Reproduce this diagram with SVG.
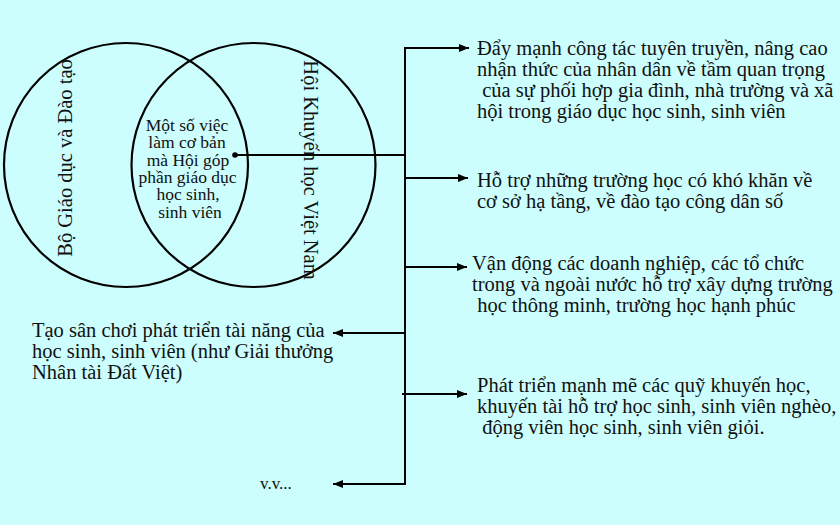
<svg xmlns="http://www.w3.org/2000/svg" width="840" height="525" viewBox="0 0 840 525">
<defs>
<marker id="ah" viewBox="0 0 10 8" refX="10" refY="4" markerWidth="10" markerHeight="8" markerUnits="userSpaceOnUse" orient="auto">
<path d="M0,0 L10,4 L0,8 Z" fill="#000"/>
</marker>
</defs>
<style>
.t{font-family:"Liberation Serif","Times New Roman",serif;font-size:20.5px;fill:#111}
.c{font-family:"Liberation Serif","Times New Roman",serif;font-size:17.5px;fill:#111;text-anchor:middle}
.s{font-family:"Liberation Serif","Times New Roman",serif;font-size:17px;fill:#111}
.ln{stroke:#000;stroke-width:2;fill:none}
.ar{stroke:#000;stroke-width:2;fill:none;marker-end:url(#ah)}
.circ{stroke:#000;stroke-width:2.2;fill:none}
</style>
<rect width="840" height="525" fill="#CCFEFE"/>
<g id="circle-left">
<circle class="circ" cx="126" cy="165" r="122"/>
<text class="t" transform="translate(72,158) rotate(-90)" text-anchor="middle">Bộ Giáo dục và Đào tạo</text>
</g>
<g id="circle-right">
<circle class="circ" cx="253.5" cy="165" r="122"/>
<text class="t" transform="translate(304,170) rotate(90)" text-anchor="middle">Hội Khuyến học Việt Nam</text>
</g>
<g id="center">
<text class="c" x="187" y="130.5">Một số việc</text>
<text class="c" x="187" y="148">làm cơ bản</text>
<text class="c" x="188" y="165.5">mà Hội góp</text>
<text class="c" x="187.5" y="183">phần giáo dục</text>
<text class="c" x="188" y="200">học sinh,</text>
<text class="c" x="190" y="217.5">sinh viên</text>
<circle cx="235" cy="155" r="2.8" fill="#000"/>
</g>
<g id="connectors">
<line class="ln" x1="235" y1="155" x2="405" y2="155"/>
<line class="ln" x1="405" y1="47" x2="405" y2="485"/>
<line class="ar" x1="404" y1="48" x2="469" y2="48"/>
<line class="ar" x1="404" y1="178" x2="468" y2="178"/>
<line class="ar" x1="404" y1="267" x2="467" y2="267"/>
<line class="ar" x1="402" y1="394" x2="467" y2="394"/>
<line class="ar" x1="406" y1="333" x2="333" y2="333"/>
<line class="ar" x1="406" y1="484" x2="333" y2="484"/>
</g>
<g id="item1">
<text class="t" x="477" y="55">Đẩy mạnh công tác tuyên truyền, nâng cao</text>
<text class="t" x="477" y="76">nhận thức của nhân dân về tầm quan trọng</text>
<text class="t" x="477" y="97" xml:space="preserve"> của sự phối hợp gia đình, nhà trường và xã</text>
<text class="t" x="477" y="118">hội trong giáo dục học sinh, sinh viên</text>
</g>
<g id="item2">
<text class="t" x="477" y="187">Hỗ trợ những trường học có khó khăn về</text>
<text class="t" x="477" y="208">cơ sở hạ tầng, về đào tạo công dân số</text>
</g>
<g id="item3">
<text class="t" x="472" y="270">Vận động các doanh nghiệp, các tổ chức</text>
<text class="t" x="472" y="291">trong và ngoài nước hỗ trợ xây dựng trường</text>
<text class="t" x="472" y="312" xml:space="preserve"> học thông minh, trường học hạnh phúc</text>
</g>
<g id="item4">
<text class="t" x="477" y="392">Phát triển mạnh mẽ các quỹ khuyến học,</text>
<text class="t" x="477" y="413">khuyến tài hỗ trợ học sinh, sinh viên nghèo,</text>
<text class="t" x="477" y="434" xml:space="preserve"> động viên học sinh, sinh viên giỏi.</text>
</g>
<g id="item5">
<text class="t" x="32" y="337">Tạo sân chơi phát triển tài năng của</text>
<text class="t" x="32" y="358">học sinh, sinh viên (như Giải thưởng</text>
<text class="t" x="32" y="379">Nhân tài Đất Việt)</text>
</g>
<g id="item6">
<text class="s" x="260" y="489">v.v...</text>
</g>
</svg>
